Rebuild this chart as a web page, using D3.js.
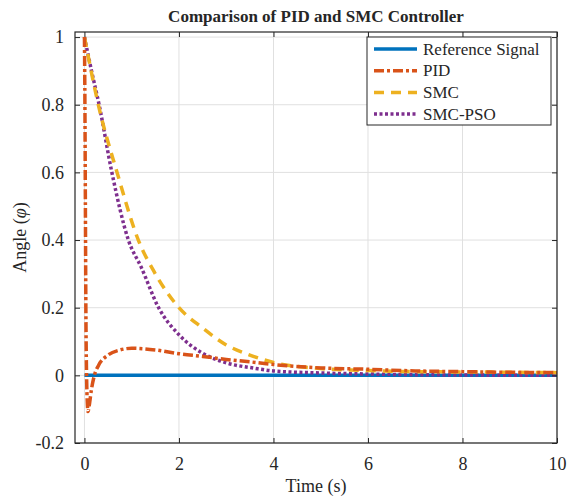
<!DOCTYPE html>
<html>
<head>
<meta charset="utf-8">
<script src="https://cdn.jsdelivr.net/npm/d3@7"></script>
<style>
  body { margin: 0; background: #fff; }
  svg { display: block; }
  text { font-family: "Liberation Serif", "Times New Roman", serif; fill: #262626; }
</style>
</head>
<body>
<svg id="chart" width="570" height="497"></svg>
<script>
// data
const xTicks = [0, 2, 4, 6, 8, 10];
const yTicks = [-0.2, 0, 0.2, 0.4, 0.6, 0.8, 1];
const yTickLabels = ['-0.2', '0', '0.2', '0.4', '0.6', '0.8', '1'];

const refT = [0, 10];
const refV = [0, 0];

const pidT = [0, 0.01, 0.02, 0.03, 0.045, 0.06, 0.075, 0.1, 0.15, 0.21, 0.3, 0.5, 0.75, 1.0, 1.5, 2, 2.5, 3, 3.5, 4, 5, 6, 7, 8, 9, 10];
const pidV = [1, 0.8, 0.5, 0.2, 0, -0.08, -0.107, -0.09, -0.04, 0, 0.03, 0.06, 0.075, 0.08, 0.075, 0.064, 0.056, 0.047, 0.04, 0.032, 0.022, 0.018, 0.013, 0.011, 0.009, 0.008];

const smcT = [0, 0.31, 0.69, 1.14, 1.5, 2.0, 2.5, 3.0, 3.5, 4, 5, 6, 7, 8, 9, 10];
const smcV = [1, 0.79, 0.6, 0.4, 0.3, 0.2, 0.14, 0.09, 0.06, 0.038, 0.02, 0.014, 0.011, 0.01, 0.009, 0.008];

const psoT = [0, 0.15, 0.31, 0.58, 0.93, 1.2, 1.57, 2.0, 2.49, 3.0, 3.6, 4, 5, 6, 7, 8, 10];
const psoV = [1, 0.9, 0.8, 0.6, 0.4, 0.32, 0.2, 0.12, 0.066, 0.037, 0.021, 0.013, 0.007, 0.004, 0.002, 0.001, 0];

const series = [
  { name: 'Reference Signal', t: refT, v: refV, color: '#0072BD', dash: null, width: 3.5 },
  { name: 'PID', t: pidT, v: pidV, color: '#D95319', dash: '10,3,3,3', width: 3.5 },
  { name: 'SMC', t: smcT, v: smcV, color: '#EDB120', dash: '10,7', width: 3.5 },
  { name: 'SMC-PSO', t: psoT, v: psoV, color: '#7E2F8E', dash: '3,2.5', width: 3.5 }
];

const svg = d3.select('#chart');
const margin = { top: 32, right: 13, bottom: 54, left: 75 };
const width = 570 - margin.left - margin.right;
const height = 497 - margin.top - margin.bottom;

const x = d3.scaleLinear().domain([-0.2, 10]).range([0, width]);
const y = d3.scaleLinear().domain([-0.2, 1.015]).range([height, 0]);

const g = svg.append('g').attr('transform', `translate(${margin.left},${margin.top})`);

// grid
g.append('g').selectAll('line').data(xTicks).enter().append('line')
  .attr('x1', d => x(d)).attr('x2', d => x(d)).attr('y1', 0).attr('y2', height)
  .attr('stroke', '#e0e0e0').attr('stroke-width', 1);
g.append('g').selectAll('line').data(yTicks).enter().append('line')
  .attr('x1', 0).attr('x2', width).attr('y1', d => y(d)).attr('y2', d => y(d))
  .attr('stroke', '#e0e0e0').attr('stroke-width', 1);

// curves
const line = d3.line().x(d => x(d[0])).y(d => y(d[1])).curve(d3.curveMonotoneX);
const drawOrder = [0, 3, 2, 1];
drawOrder.forEach(i => {
  const s = series[i];
  g.append('path')
    .datum(s.t.map((t, k) => [t, s.v[k]]))
    .attr('d', line)
    .attr('fill', 'none')
    .attr('stroke', s.color)
    .attr('stroke-width', s.width)
    .attr('stroke-dasharray', s.dash);
});

// axes, MATLAB style inward ticks
const tickLen = 5;
g.append('g').attr('transform', `translate(0,${height})`)
  .call(d3.axisBottom(x).tickValues(xTicks).tickSize(-tickLen).tickPadding(14).tickFormat(d3.format('d')))
  .call(a => a.select('.domain').remove());
g.append('g')
  .call(d3.axisTop(x).tickValues(xTicks).tickSize(-tickLen).tickFormat(''))
  .call(a => a.select('.domain').remove());
g.append('g')
  .call(d3.axisLeft(y).tickValues(yTicks).tickSize(-tickLen).tickPadding(11).tickFormat((d, i) => yTickLabels[i]))
  .call(a => a.select('.domain').remove());
g.append('g').attr('transform', `translate(${width},0)`)
  .call(d3.axisRight(y).tickValues(yTicks).tickSize(-tickLen).tickFormat(''))
  .call(a => a.select('.domain').remove());

g.selectAll('.tick line').attr('stroke', '#262626').attr('stroke-width', 1);
g.selectAll('.tick text').style('font-size', '18px').style('font-family', '"Liberation Serif", serif').attr('fill', '#262626');

g.append('rect').attr('x', 0).attr('y', 0).attr('width', width).attr('height', height)
  .attr('fill', 'none').attr('stroke', '#262626').attr('stroke-width', 1.2);

// title and axis labels
svg.append('text').attr('x', margin.left + width / 2).attr('y', 22)
  .attr('text-anchor', 'middle').style('font-size', '17px').style('font-weight', 'bold')
  .attr('fill', '#000').text('Comparison of PID and SMC Controller');

svg.append('text').attr('x', margin.left + width / 2).attr('y', 492)
  .attr('text-anchor', 'middle').style('font-size', '18px').text('Time (s)');

const yl = svg.append('text')
  .attr('transform', `translate(26,${margin.top + height / 2}) rotate(-90)`)
  .attr('text-anchor', 'middle').style('font-size', '18px');
yl.append('tspan').text('Angle (');
yl.append('tspan').style('font-style', 'italic').text('φ');
yl.append('tspan').text(')');

// legend
const lg = svg.append('g').attr('transform', 'translate(367,37)');
lg.append('rect').attr('width', 184).attr('height', 88)
  .attr('fill', '#fff').attr('stroke', '#262626').attr('stroke-width', 1);
series.forEach((s, i) => {
  const yy = 12 + i * 21.7;
  lg.append('line').attr('x1', 7).attr('x2', 50).attr('y1', yy).attr('y2', yy)
    .attr('stroke', s.color).attr('stroke-width', s.width).attr('stroke-dasharray', s.dash);
  lg.append('text').attr('x', 56).attr('y', yy).attr('dy', '0.33em')
    .style('font-size', '17px').attr('fill', '#000').text(s.name);
});
</script>
</body>
</html>
